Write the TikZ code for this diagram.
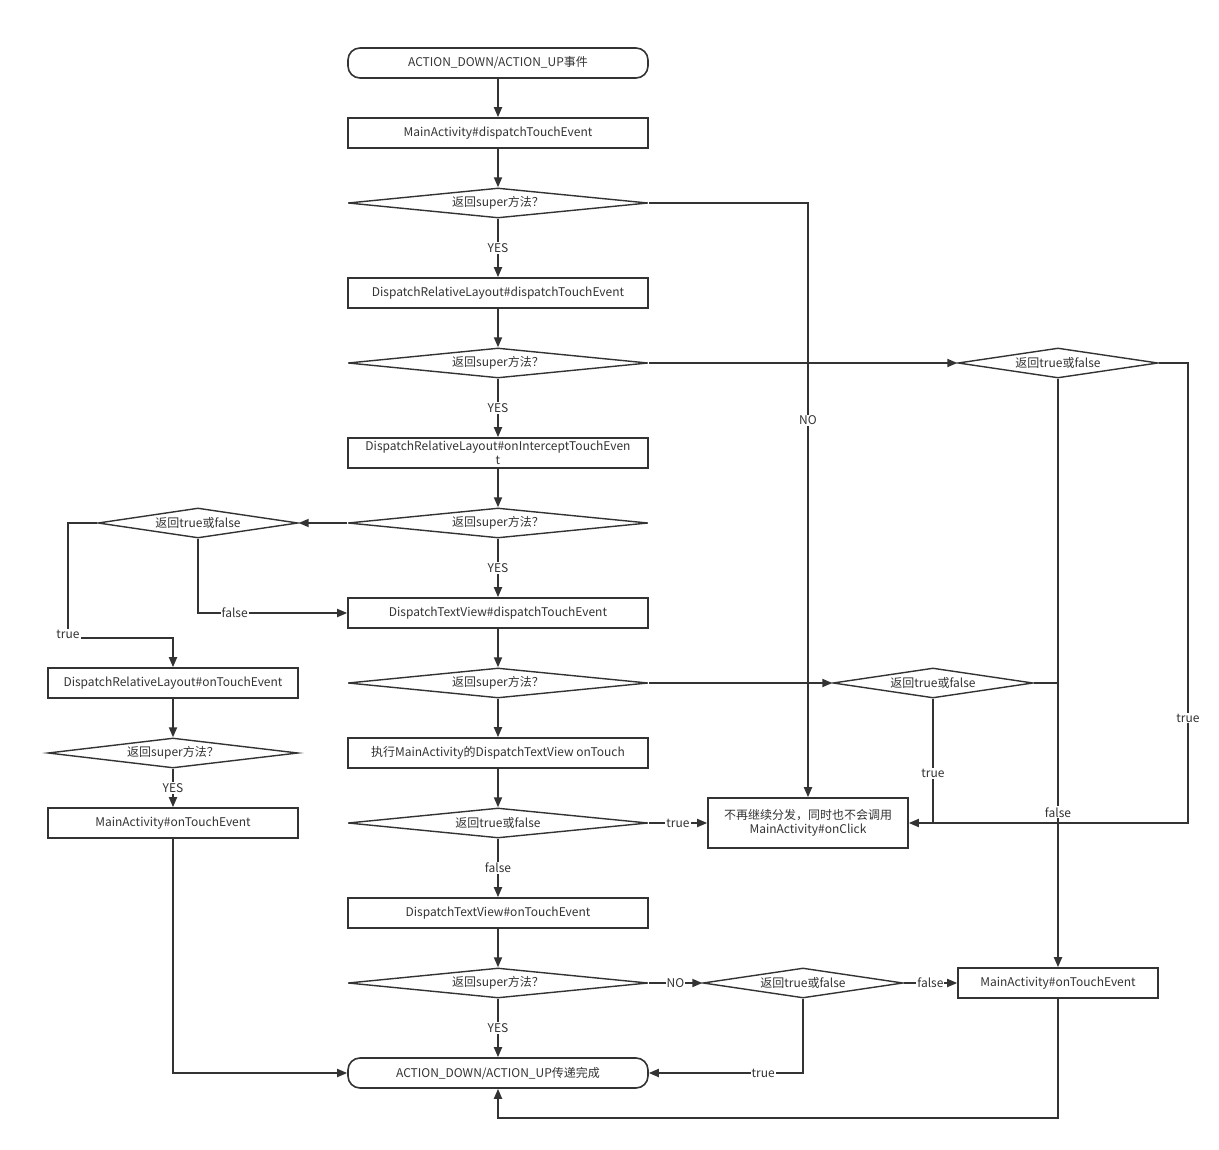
\documentclass[tikz,border=0pt]{standalone}
\usepackage{fontspec}
\setmainfont{Noto Sans CJK SC}
\usepackage{tikz}
\usetikzlibrary{shapes.geometric}
\usetikzlibrary{arrows.meta}
\definecolor{ink}{HTML}{333333}
\tikzset{
    box/.style={draw=ink, line width=1.6pt, minimum width=300pt, minimum height=30pt, inner sep=1pt, align=center},
    endbox/.style={box, rounded corners=12pt},
    cond/.style={draw=ink, line width=1.4pt, diamond, shape aspect=10, inner sep=0pt, minimum width=300pt, minimum height=30pt},
    lbl/.style={fill=white, inner sep=1pt, text=ink},
    arr/.style={draw=ink, line width=1.8pt, -{Triangle[length=10pt,width=8pt]}},
    ln/.style={draw=ink, line width=1.8pt}
}
\begin{document}
\begin{tikzpicture}[x=1pt, y=-1pt, font=\fontsize{12}{14}\selectfont, text=ink]
\useasboundingbox (0,0) rectangle (1219,1150);
% main column
\node[endbox] (start) at (498,63) {ACTION\_DOWN/ACTION\_UP事件};
\foreach \y/\n/\t in {133/b1/{MainActivity\#dispatchTouchEvent}, 293/b2/{DispatchRelativeLayout\#dispatchTouchEvent}, 453/b3/{DispatchRelativeLayout\#onInterceptTouchEven\\t}, 613/b4/{DispatchTextView\#dispatchTouchEvent}, 753/b5/{执行MainActivity的DispatchTextView onTouch}, 913/b6/{DispatchTextView\#onTouchEvent}}{
    \node[box] (\n) at (498,\y) {\t};
}
\foreach \y/\n/\t in {203/d1/{返回super方法？}, 363/d2/{返回super方法？}, 523/d3/{返回super方法？}, 683/d4/{返回super方法？}, 823/d5/{返回true或false}, 983/d6/{返回super方法？}}{
    \node[cond] (\n) at (498,\y) {\t};
}
\node[endbox] (end) at (498,1073) {ACTION\_DOWN/ACTION\_UP传递完成};
% left column
\node[cond, minimum width=200pt] (dl1) at (198,523) {返回true或false};
\node[box, minimum width=250pt] (bl1) at (173,683) {DispatchRelativeLayout\#onTouchEvent};
\node[cond, minimum width=250pt] (dl2) at (173,753) {返回super方法？};
\node[box, minimum width=250pt] (bl2) at (173,823) {MainActivity\#onTouchEvent};
% right side
\node[cond, minimum width=200pt] (dr1) at (1058,363) {返回true或false};
\node[cond, minimum width=200pt] (dr2) at (933,683) {返回true或false};
\node[box, minimum width=200pt, minimum height=50pt] (click) at (808,823) {不再继续分发，同时也不会调用\\MainActivity\#onClick};
\node[cond, minimum width=200pt] (dr3) at (803,983) {返回true或false};
\node[box, minimum width=200pt] (br) at (1058,983) {MainActivity\#onTouchEvent};
\coordinate (rt) at (1188,363);
\coordinate (lt) at (68,638);
\coordinate (bt) at (1058,1118);
% main flow
\draw[arr] (start) -- (b1);
\draw[arr] (b1) -- (d1);
\draw[arr] (d1) -- node[lbl]{YES} (b2);
\draw[arr] (b2) -- (d2);
\draw[arr] (d2) -- node[lbl]{YES} (b3);
\draw[arr] (b3) -- (d3);
\draw[arr] (d3) -- node[lbl]{YES} (b4);
\draw[arr] (b4) -- (d4);
\draw[arr] (d4) -- (b5);
\draw[arr] (b5) -- (d5);
\draw[arr] (d5) -- node[lbl]{false} (b6);
\draw[arr] (b6) -- (d6);
\draw[arr] (d6) -- node[lbl]{YES} (end);
% branches
\draw[arr] (d1.east) -| node[lbl, pos=0.683]{NO} (click.north);
\draw[arr] (d2.east) -- (dr1.west);
\draw[arr] (dr1.east) -- (rt) |- node[lbl, pos=0.386]{true} (click.east);
\draw[arr] (dr1.south) -- node[lbl, pos=0.737]{false} (br.north);
\draw[arr] (d4.east) -- (dr2.west);
\draw[ln] (dr2.east) -- (dr2.east -| dr1.south);
\draw[ln] (dr2.south) -- node[lbl, pos=0.6]{true} (dr2.south |- click.east);
\draw[arr] (d3.west) -- (dl1.east);
\draw[arr] (dl1.west) -| node[lbl, pos=1, yshift=4pt]{true} (lt) -| (bl1.north);
\draw[arr] (dl1.south) |- node[lbl, pos=0.623]{false} (b4.west);
\draw[arr] (bl1) -- (dl2);
\draw[arr] (dl2) -- node[lbl]{YES} (bl2);
\draw[arr] (bl2.south) |- (end.west);
\draw[arr] (d5.east) -- node[lbl]{true} (click.west);
\draw[arr] (d6.east) -- node[lbl]{NO} (dr3.west);
\draw[arr] (dr3.east) -- node[lbl]{false} (br.west);
\draw[arr] (dr3.south) |- node[lbl, pos=0.629]{true} (end.east);
\draw[arr] (br.south) -- (bt) -| (end.south);
\end{tikzpicture}
\end{document}
